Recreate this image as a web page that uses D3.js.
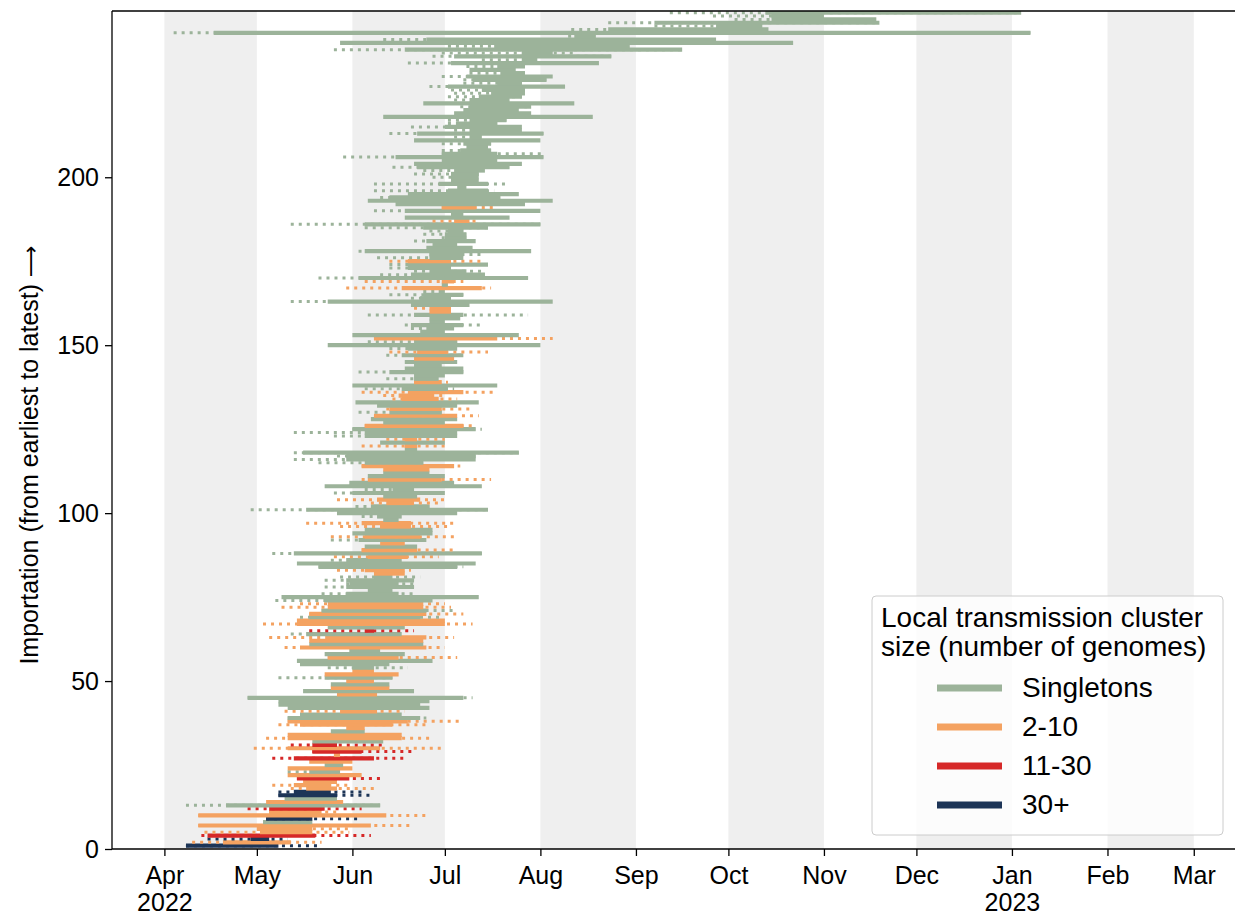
<!DOCTYPE html>
<html>
<head>
<meta charset="utf-8">
<script src="https://cdn.jsdelivr.net/npm/d3@7"></script>
<style>
  body { margin: 0; background: #fff; }
  text { font-family: "Liberation Sans", Arial, sans-serif; fill: #000; }
</style>
</head>
<body>
<svg id="chart" width="1235" height="915"></svg>
<script>
// days after 2022-04-01, one entry per importation (earliest at the bottom)
const dotStart = [
  7,9,14,12,13,30,11,32,33,11, 34,27,7,33,39,37,37,41,35,45, 43,40,40,40,52,47,35,55,48,29,
  41,48,33,40,54,59,37,40,40,44, 39,40,37,37,27,56,45,54,54,59, 37,52,61,53,44,43,53,52,60,39,
  47,47,34,41,47,53,32,43,44,47, 51,38,44,36,38,51,66,52,59,52, 57,68,56,50,43,54,55,35,64,65,
  70,54,54,61,65,57,46,71,64,56, 28,62,67,56,71,55,65,52,60,64, 66,71,71,64,50,42,56,42,78,64,
  70,72,55,42,61,65,71,67,68,63, 72,69,62,74,71,64,65,61,81,72, 81,63,78,81,78,81,72,73,73,53,
  66,68,61,83,80,78,86,86,66,86, 81,80,41,80,73,84,59,90,65,50, 70,81,73,73,73,69,86,63,85,87,
  81,90,84,86,65,41,87,78,93,68, 90,75,66,70,79,68,95,68,93,87, 81,84,74,81,90,58,90,90,98,90,
  81,94,73,94,80,92,92,71,94,97, 96,84,94,92,94,93,86,97,97,90, 99,99,98,79,103,87,90,55,92,57,
  71,131,3,132,159,144,185,178,164
];
const solidStart = [
  7,19,28,14,31,30,11,32,33,11, 34,34,20,33,39,37,42,46,42,45, 43,40,47,40,52,47,42,55,48,40,
  48,48,40,40,54,59,44,40,40,44, 57,40,37,37,27,56,45,54,54,59, 52,52,61,61,44,43,53,52,60,44,
  47,47,53,46,65,53,43,43,47,47, 51,53,53,52,38,59,66,59,60,59, 68,68,65,50,43,59,66,42,64,65,
  70,63,65,61,65,70,64,71,69,56, 46,67,72,69,71,61,74,52,60,66, 66,71,71,64,65,59,59,45,78,78,
  70,78,65,65,61,65,71,67,68,73, 73,69,62,77,76,79,77,61,81,81, 81,73,78,81,78,81,77,82,79,53,
  81,68,61,83,85,80,86,86,81,86, 86,80,53,83,84,89,77,90,90,63, 80,86,79,79,79,86,86,65,85,87,
  85,91,91,92,84,65,94,78,93,78, 90,75,66,73,79,92,95,89,93,93, 93,94,82,81,90,75,90,96,98,97,
  81,99,82,99,91,95,99,71,94,97, 99,84,99,102,106,103,92,108,100,98, 109,99,108,93,116,94,116,78,107,57,
  85,133,16,144,179,159,197,197,195
];
const solidEnd = [
  37,41,34,49,48,48,67,48,48,72, 51,52,70,58,56,56,54,56,54,56, 60,64,57,61,58,61,68,57,64,70,
  56,71,77,77,65,65,74,79,83,77, 69,86,83,86,97,69,81,73,73,68, 74,76,68,68,73,87,76,78,70,85,
  84,84,85,77,68,78,91,91,83,85, 85,84,84,87,102,76,74,81,76,81, 74,78,78,95,101,77,79,103,82,82,
  78,85,83,87,87,80,80,76,77,95, 105,86,81,83,82,91,81,103,94,90, 91,86,86,94,84,101,101,115,82,82,
  91,82,95,95,101,97,91,95,95,90, 90,95,102,89,87,97,92,108,90,89, 91,97,97,90,95,94,97,92,95,122,
  95,108,115,91,94,97,91,96,97,93, 93,99,126,93,97,91,103,92,94,118, 104,98,93,105,93,97,97,119,100,95,
  101,98,98,97,105,122,99,112,97,122, 101,117,126,109,115,105,98,105,102,102, 102,104,112,116,108,123,108,106,105,106,
  122,103,123,116,116,108,111,139,119,115, 119,133,112,116,117,117,130,116,124,126, 117,114,117,141,121,145,126,168,151,204,
  179,140,281,196,194,232,231,214,278
];
const dotEnd = [
  50,51,40,67,60,60,80,48,63,85, 56,64,70,58,56,67,64,69,60,56, 71,64,57,61,58,61,79,57,81,91,
  71,71,86,77,65,65,85,96,85,77, 78,86,83,86,100,69,81,73,73,68, 74,76,68,79,73,87,95,78,70,91,
  84,84,94,77,81,78,100,91,90,97, 95,93,91,87,102,81,74,81,81,81, 83,78,80,97,101,77,89,103,94,82,
  78,85,94,87,87,93,95,76,77,95, 105,86,90,91,82,91,81,103,94,106, 91,86,86,96,84,101,101,115,82,91,
  91,91,95,95,103,101,91,95,102,90, 99,95,102,95,91,107,94,108,92,89, 91,97,97,90,95,94,97,105,95,122,
  95,126,115,91,94,103,91,96,118,93, 93,99,126,93,97,91,106,92,97,118, 104,104,93,105,103,97,103,119,100,95,
  101,98,98,97,105,122,102,112,97,122, 108,117,126,109,115,107,98,111,102,102, 102,104,112,116,108,123,123,106,105,106,
  122,103,123,116,116,108,111,139,119,115, 119,133,112,116,117,117,130,116,124,126, 117,114,117,141,121,145,134,168,151,204,
  179,140,281,196,194,232,231,214,278
];
// 0 = singleton, 1 = 2-10, 2 = 11-30, 3 = 30+
const clusterSize = [
  3,1,3,2,1,1,1,0,3,1, 1,2,0,1,0,3,3,1,1,1, 2,1,0,1,0,1,2,1,2,1,
  2,0,1,1,0,1,1,1,0,0, 1,0,0,0,0,1,0,1,0,1, 0,1,1,0,0,0,1,0,0,1,
  0,1,1,0,2,0,1,1,0,1, 0,1,1,0,0,0,0,0,0,0, 0,1,1,0,0,0,1,0,1,0,
  1,0,1,0,0,1,1,0,0,0, 0,0,1,1,0,0,0,0,0,1, 0,0,1,1,0,0,0,0,0,1,
  0,1,0,0,0,1,0,0,1,0, 1,0,0,1,1,1,0,0,1,0, 0,0,0,0,0,1,0,1,0,0,
  0,1,0,0,0,0,0,0,0,1, 1,0,0,0,0,0,1,0,1,0, 0,0,0,0,1,0,0,0,0,0,
  0,0,0,0,0,0,1,0,0,0, 1,0,0,0,0,0,0,0,0,0, 0,0,0,0,0,0,0,0,0,0,
  0,0,0,0,0,0,0,0,0,0, 0,0,0,0,0,0,0,0,0,0, 0,0,0,0,0,0,0,0,0,0,
  0,0,0,0,0,0,0,0,0
];
const sizeLabels = ["Singletons", "2-10", "11-30", "30+"];
const sizeColors = ["#9cb39a", "#f4a261", "#d62828", "#1d3557"];
const monthTicks = ["Apr", "May", "Jun", "Jul", "Aug", "Sep", "Oct", "Nov", "Dec", "Jan", "Feb", "Mar"];
const yTicks = [0, 50, 100, 150, 200];

const base = new Date(2022, 3, 1);
const day = (n) => d3.timeDay.offset(base, n);

const margin = { left: 112, top: 11, right: 1240, bottom: 849 };
const svg = d3.select("#chart");

const x = d3
  .scaleTime()
  .domain([new Date(2022, 2, 15), new Date(2023, 2, 16)])
  .range([margin.left, margin.right]);
const y = d3
  .scaleLinear()
  .domain([0, 249.5])
  .range([margin.bottom, margin.top]);

svg.append("clipPath")
  .attr("id", "plot-clip")
  .append("rect")
  .attr("x", margin.left)
  .attr("y", margin.top)
  .attr("width", margin.right - margin.left)
  .attr("height", margin.bottom - margin.top);

const plot = svg.append("g").attr("clip-path", "url(#plot-clip)");

// alternating month shading
const months = monthTicks.map((m, i) => d3.timeMonth.offset(base, i));
plot.append("g")
  .selectAll("rect")
  .data(months.filter((m, i) => i % 2 === 0))
  .join("rect")
  .attr("x", (d) => x(d))
  .attr("y", margin.top)
  .attr("width", (d) => x(d3.timeMonth.offset(d, 1)) - x(d))
  .attr("height", margin.bottom - margin.top)
  .attr("fill", "#efefef");

// one row per importation: dotted range, then solid range over it
const rows = d3.range(dotStart.length);
const rowG = plot.append("g")
  .selectAll("g")
  .data(rows)
  .join("g")
  .attr("stroke", (i) => sizeColors[clusterSize[i]]);

rowG.filter((i) => dotStart[i] < solidStart[i] || dotEnd[i] > solidEnd[i])
  .append("line")
  .attr("x1", (i) => x(day(dotStart[i])))
  .attr("x2", (i) => x(day(dotEnd[i])))
  .attr("y1", (i) => y(i + 1))
  .attr("y2", (i) => y(i + 1))
  .attr("stroke-width", 3)
  .attr("stroke-dasharray", "3 5");

rowG.append("line")
  .attr("x1", (i) => x(day(solidStart[i])))
  .attr("x2", (i) => x(day(solidEnd[i])))
  .attr("y1", (i) => y(i + 1))
  .attr("y2", (i) => y(i + 1))
  .attr("stroke-width", 4.2);

// spines
const spine = svg.append("g").attr("stroke", "#000").attr("stroke-width", 1.3);
spine.append("line").attr("x1", margin.left).attr("x2", margin.left).attr("y1", margin.top).attr("y2", margin.bottom);
spine.append("line").attr("x1", margin.left).attr("x2", margin.right).attr("y1", margin.bottom).attr("y2", margin.bottom);
spine.append("line").attr("x1", margin.left).attr("x2", margin.right).attr("y1", margin.top).attr("y2", margin.top);

// axes
const xAxis = svg.append("g")
  .attr("transform", `translate(0,${margin.bottom})`)
  .call(d3.axisBottom(x).tickValues(months).tickSize(7).tickFormat((d, i) => monthTicks[i]));
xAxis.select(".domain").remove();
xAxis.selectAll("line").attr("stroke", "#000").attr("stroke-width", 1.3);
xAxis.selectAll("text")
  .attr("font-size", 25)
  .attr("dy", 0)
  .attr("y", 35)
  .attr("fill", "#000");
xAxis.selectAll(".tick")
  .filter((d) => d.getMonth() === 3 || d.getMonth() === 0)
  .append("text")
  .attr("y", 62)
  .attr("text-anchor", "middle")
  .attr("font-size", 25)
  .text((d) => d.getFullYear());

const yAxis = svg.append("g")
  .attr("transform", `translate(${margin.left},0)`)
  .call(d3.axisLeft(y).tickValues(yTicks).tickSize(7).tickPadding(6));
yAxis.select(".domain").remove();
yAxis.selectAll("line").attr("stroke", "#000").attr("stroke-width", 1.3);
yAxis.selectAll("text").attr("font-size", 25).attr("fill", "#000");

const yLabel = svg.append("text")
  .attr("transform", `translate(38,${(margin.top + margin.bottom) / 2 + 25}) rotate(-90)`)
  .attr("text-anchor", "middle")
  .attr("font-size", 25);
yLabel.append("tspan").text("Importation (from earliest to latest) ");
yLabel.append("tspan").attr("font-family", "DejaVu Sans").attr("font-size", 22).text("\u27f6");

// legend
const legend = svg.append("g").attr("transform", "translate(872,596)");
legend.append("rect")
  .attr("width", 351)
  .attr("height", 239)
  .attr("rx", 4)
  .attr("fill", "#fff")
  .attr("fill-opacity", 0.8)
  .attr("stroke", "#cccccc");
legend.append("text").attr("x", 9).attr("y", 31).attr("font-size", 28).text("Local transmission cluster");
legend.append("text").attr("x", 9).attr("y", 60).attr("font-size", 28).text("size (number of genomes)");

const item = legend.selectAll(".item")
  .data(sizeLabels)
  .join("g")
  .attr("class", "item")
  .attr("transform", (d, i) => `translate(0,${92 + i * 39})`);
item.append("line")
  .attr("x1", 65)
  .attr("x2", 130)
  .attr("stroke", (d, i) => sizeColors[i])
  .attr("stroke-width", 7);
item.append("text")
  .attr("x", 150)
  .attr("y", 9)
  .attr("font-size", 28)
  .text((d) => d);
</script>
</body>
</html>
